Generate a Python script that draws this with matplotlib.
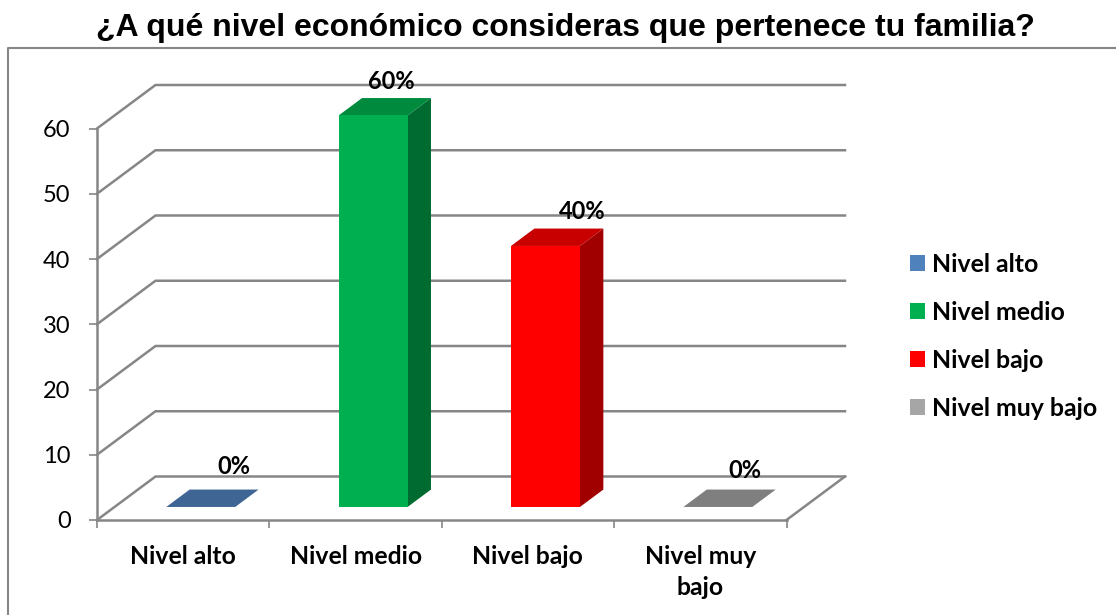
import matplotlib
matplotlib.use("Agg")
import matplotlib.pyplot as plt
from matplotlib.lines import Line2D
from matplotlib.patches import Patch, Polygon

# datos
categorias = ["Nivel alto", "Nivel medio", "Nivel bajo", "Nivel muy\nbajo"]
leyenda = ["Nivel alto", "Nivel medio", "Nivel bajo", "Nivel muy bajo"]
valores = [0, 60, 40, 0]
etiquetas = ["0%", "60%", "40%", "0%"]
marcas_y = [0, 10, 20, 30, 40, 50, 60]

# colores de cada barra
frente = ["#4F81BD", "#00B050", "#FF0000", "#A6A6A6"]
tapa = ["#3F6594", "#008A3E", "#C80000", "#7F7F7F"]
lado = ["#2F4C70", "#006B30", "#A00000", "#606060"]
GRIS = "#868686"

W, H = 1116, 615
fig = plt.figure(figsize=(W / 100, H / 100), dpi=100)
ax = fig.add_axes([97 / W, 1 - 520 / H, (786.5 - 97) / W, (520 - 128.5) / H])
ax.set_xlim(0, 4)
ax.set_ylim(0, 60)
ax.patch.set_visible(False)

# profundidad del "3D" en unidades de los ejes
prof_x = 58.5 / 172.4
prof_y = 43.5 / 6.525
ancho = 0.4


def en_fondo(x, y, f):
    # punto (x, y) llevado a la fraccion f de la profundidad
    return (x + f * prof_x, y + f * prof_y)


# rejilla: suelo, pared del fondo
for v in marcas_y:
    xs, ys = zip(en_fondo(0, v, 0), en_fondo(0, v, 1), en_fondo(4, v, 1))
    ax.plot(xs, ys, color=GRIS, lw=1.8, clip_on=False, zorder=1, solid_joinstyle="miter")
xs, ys = zip(en_fondo(4, 0, 0), en_fondo(4, 0, 1))
ax.plot(xs, ys, color=GRIS, lw=1.8, clip_on=False, zorder=1)

# barras
for i, v in enumerate(valores):
    x0 = i + 0.5 - ancho / 2
    x1 = i + 0.5 + ancho / 2
    f0, f1 = 0.3, 0.7
    cara = [en_fondo(x0, 0, f0), en_fondo(x1, 0, f0), en_fondo(x1, v, f0), en_fondo(x0, v, f0)]
    arriba = [en_fondo(x0, v, f0), en_fondo(x1, v, f0), en_fondo(x1, v, f1), en_fondo(x0, v, f1)]
    costado = [en_fondo(x1, 0, f0), en_fondo(x1, 0, f1), en_fondo(x1, v, f1), en_fondo(x1, v, f0)]
    ax.add_patch(Polygon(costado, color=lado[i], lw=0, clip_on=False, zorder=3))
    ax.add_patch(Polygon(arriba, color=tapa[i], lw=0, clip_on=False, zorder=3))
    if v > 0:
        ax.add_patch(Polygon(cara, color=frente[i], lw=0, clip_on=False, zorder=3))

# etiquetas de datos, desplazadas a mano en pixeles
desplaz = [(51, 54), (35.5, 47.5), (54, 47.5), (45, 49)]
for i, v in enumerate(valores):
    ax.annotate(etiquetas[i], (i + 0.5, v), xytext=desplaz[i], textcoords="offset pixels",
                ha="center", va="center", family="Lato", weight="bold", fontsize=17,
                color="black", annotation_clip=False, zorder=5)

# ejes
for s in ["top", "right"]:
    ax.spines[s].set_visible(False)
for s in ["left", "bottom"]:
    ax.spines[s].set_color(GRIS)
    ax.spines[s].set_linewidth(1.8)
    ax.spines[s].set_zorder(2)
ax.set_yticks(marcas_y)
ax.set_xticks(range(5))
ax.set_xticklabels([])
ax.set_xticks([i + 0.5 for i in range(4)], minor=True)
ax.set_xticklabels(categorias, minor=True, family="Lato", weight="bold", fontsize=17.8, linespacing=1.42)
ax.tick_params(axis="x", which="major", color=GRIS, width=1.2, length=6)
ax.tick_params(axis="x", which="minor", length=0, pad=18)
ax.tick_params(axis="y", color=GRIS, width=1.2, length=6, pad=13, labelsize=17)
for t in ax.get_yticklabels():
    t.set_family("Lato")

# leyenda
parches = [Patch(color=c, lw=0) for c in frente]
fig.legend(parches, leyenda, loc="upper left", bbox_to_anchor=(910 / W, 1 - 253 / H),
           prop={"family": "Lato", "weight": "bold", "size": 17.9}, frameon=False,
           handlelength=0.61, handleheight=0.61, handletextpad=0.27, labelspacing=1.0,
           borderpad=0, borderaxespad=0)

# marco del grafico
fig.add_artist(Line2D([8 / W, 8 / W, 1], [0, 1 - 47.5 / H, 1 - 47.5 / H], color=GRIS, lw=1.5))

fig.text(565 / W, 1 - 28 / H, "¿A qué nivel económico consideras que pertenece tu familia?",
         family="Liberation Sans", weight="bold", fontsize=23, ha="center", va="center")

fig.savefig("out.png", dpi=100)
